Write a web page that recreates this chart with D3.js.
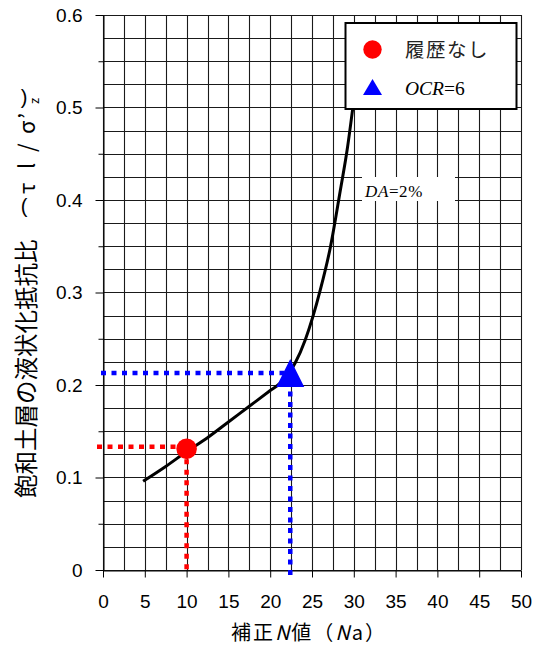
<!DOCTYPE html>
<html><head><meta charset="utf-8">
<script src="https://cdn.jsdelivr.net/npm/d3@7"></script>
<style>
body{margin:0;background:#fff;}
svg{display:block;}
</style></head>
<body>
<svg id="c" width="544" height="657"></svg>
<script>
// ---- data ----
const curveN = [4.8, 7.5, 10, 12.5, 15, 17.5, 20, 21.2, 23.0, 24.2, 26.0, 27.2, 28.4, 29.2, 29.9, 30.5];
const curveR = [0.096, 0.112, 0.128, 0.143, 0.160, 0.177, 0.194, 0.202, 0.224, 0.249, 0.303, 0.349, 0.411, 0.454, 0.501, 0.545];
const pointNames = ["履歴なし", "OCR=6"];
const pointN = [10, 22.4];
const pointR = [0.131, 0.213];
const pointColors = ["#ff0000", "#0000ff"];
const xTicks = [0, 5, 10, 15, 20, 25, 30, 35, 40, 45, 50];
const yTicks = [0, 0.1, 0.2, 0.3, 0.4, 0.5, 0.6];
const yMinorTicks = [0.05, 0.15, 0.25, 0.35, 0.45, 0.55];
const xGrid = d3.range(0, 50.001, 2.5);
const yGrid = d3.range(0, 0.6001, 0.025);

const svg = d3.select("#c");
const x = d3.scaleLinear().domain([0, 50]).range([103, 521]);
const y = d3.scaleLinear().domain([0, 0.6]).range([570, 15]);

const font = "'Liberation Sans', Arial, sans-serif";
const cjk = "'Noto Sans CJK JP', sans-serif";
const serif = "'Liberation Serif', 'Times New Roman', serif";

// grid
const g = svg.append("g");
g.selectAll("line.v").data(xGrid).join("line")
  .attr("x1", d => Math.round(x(d)) + 0.5).attr("x2", d => Math.round(x(d)) + 0.5)
  .attr("y1", y(0)).attr("y2", y(0.6))
  .attr("stroke", "#1a1a1a").attr("stroke-width", 1.1);
g.selectAll("line.h").data(yGrid).join("line")
  .attr("y1", d => Math.round(y(d)) + 0.5).attr("y2", d => Math.round(y(d)) + 0.5)
  .attr("x1", x(0)).attr("x2", x(50))
  .attr("stroke", "#1a1a1a").attr("stroke-width", 1.1);

// axes
const xAxis = svg.append("g").attr("transform", `translate(0,${Math.round(y(0)) + 0.5})`)
  .call(d3.axisBottom(x).tickValues(xTicks).tickSize(7).tickPadding(17).tickSizeOuter(0).tickFormat(d3.format("d")));
const yAxis = svg.append("g").attr("transform", `translate(${Math.round(x(0)) + 0.5},0)`)
  .call(d3.axisLeft(y).tickValues(yTicks).tickSize(8).tickPadding(13).tickSizeOuter(0)
    .tickFormat(d => d === 0 ? "0" : d.toFixed(1)));
svg.append("g").attr("transform", `translate(${Math.round(x(0)) + 0.5},0)`)
  .call(d3.axisLeft(y).tickValues(yMinorTicks).tickSize(5).tickFormat(""))
  .call(s => s.select(".domain").remove());
[xAxis, yAxis].forEach(a => {
  a.selectAll("text").attr("font-family", font).attr("font-size", 19).attr("fill", "#000");
  a.selectAll("line,path").attr("stroke", "#000");
});
svg.selectAll(".tick line").attr("stroke", "#000");

// guide dotted lines
const p0 = [x(pointN[0]), y(pointR[0])];
const p1 = [x(pointN[1]), y(pointR[1])];
svg.append("line").attr("x1", 97).attr("x2", p0[0]).attr("y1", p0[1] - 2).attr("y2", p0[1] - 2)
  .attr("stroke", pointColors[0]).attr("stroke-width", 4.5).attr("stroke-dasharray", "5,5.5");
svg.append("line").attr("x1", p0[0]).attr("x2", p0[0]).attr("y1", p0[1]).attr("y2", y(0))
  .attr("stroke", pointColors[0]).attr("stroke-width", 4.5).attr("stroke-dasharray", "5,5.5");
svg.append("line").attr("x1", 101).attr("x2", p1[0]).attr("y1", p1[1]).attr("y2", p1[1])
  .attr("stroke", pointColors[1]).attr("stroke-width", 4.5).attr("stroke-dasharray", "5,5.5");
svg.append("line").attr("x1", p1[0]).attr("x2", p1[0]).attr("y1", p1[1] + 8).attr("y2", y(0) + 7)
  .attr("stroke", pointColors[1]).attr("stroke-width", 4.5).attr("stroke-dasharray", "5,5.5");

// curve
const line = d3.line().x((d, i) => x(curveN[i])).y((d, i) => y(curveR[i])).curve(d3.curveMonotoneX);
svg.append("path").datum(curveN).attr("d", line)
  .attr("fill", "none").attr("stroke", "#000").attr("stroke-width", 3);

// points
svg.append("circle").attr("cx", p0[0]).attr("cy", p0[1]).attr("r", 10.3).attr("fill", pointColors[0]);
const tri = (cx, cy, hw, hh) => `M${cx},${cy - hh}L${cx + hw},${cy + hh}L${cx - hw},${cy + hh}Z`;
svg.append("path").attr("d", tri(p1[0], p1[1], 14, 14)).attr("fill", pointColors[1]);

// DA label
svg.append("rect").attr("x", 362).attr("y", 177).attr("width", 93).attr("height", 24).attr("fill", "#fff");
const da = svg.append("text").attr("x", 365).attr("y", 197).attr("font-family", serif).attr("font-size", 17)
  .attr("letter-spacing", 0.6);
da.append("tspan").attr("font-style", "italic").text("DA");
da.append("tspan").text("=2%");

// legend
svg.append("rect").attr("x", 345.5).attr("y", 23).attr("width", 171).attr("height", 86)
  .attr("fill", "#fff").attr("stroke", "#000").attr("stroke-width", 2);
svg.append("circle").attr("cx", 372.5).attr("cy", 49.5).attr("r", 9.2).attr("fill", pointColors[0]);
svg.append("text").attr("x", 405).attr("y", 57).attr("font-family", cjk).attr("font-size", 19.5)
  .attr("letter-spacing", 1.5).attr("fill", "#222").text(pointNames[0]);
svg.append("path").attr("d", tri(372.5, 87, 9.5, 8)).attr("fill", pointColors[1]);
const oc = svg.append("text").attr("x", 405).attr("y", 95).attr("font-family", serif).attr("font-size", 19.5);
oc.append("tspan").attr("font-style", "italic").text("OCR");
oc.append("tspan").text("=6");

// axis titles
const xt = svg.append("text").attr("x", 309).attr("y", 640).attr("text-anchor", "middle")
  .attr("font-family", cjk).attr("font-size", 20).attr("letter-spacing", 2).attr("fill", "#000");
xt.append("tspan").text("補正");
xt.append("tspan").attr("font-style", "italic").text("N");
xt.append("tspan").text("値（");
xt.append("tspan").attr("font-style", "italic").text("N");
xt.append("tspan").text("a）");

const yt = svg.append("text").attr("transform", "translate(35,498) rotate(-90)")
  .attr("font-family", cjk).attr("font-size", 23.5).attr("fill", "#000");
yt.append("tspan").text("飽和土層の液状化抵抗比");
yt.append("tspan").attr("x", 304).attr("font-size", 22).text("τ");
yt.append("tspan").attr("x", 329).attr("font-size", 22).text("l");
yt.append("tspan").attr("x", 346).attr("font-size", 22).text("/");
yt.append("tspan").attr("x", 364).attr("font-size", 22).text("σ");
yt.append("tspan").attr("x", 379).attr("font-size", 22).text("’");
yt.append("tspan").attr("x", 394).attr("font-size", 13).attr("dy", 4).text("z");
svg.append("text").attr("x", 24).attr("y", 213).attr("text-anchor", "middle")
  .attr("font-family", font).attr("font-size", 20).text("(");
svg.append("text").attr("x", 24).attr("y", 104).attr("text-anchor", "middle")
  .attr("font-family", font).attr("font-size", 20).text(")");
</script>
</body></html>
